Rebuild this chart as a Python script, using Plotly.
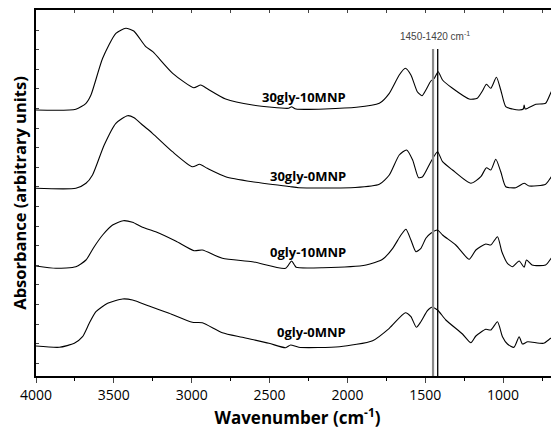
import plotly.graph_objects as go

# Wavenumbers (cm-1) and absorbance (arbitrary units, offset stacked)
wn_a = [4000, 3744, 3679, 3647, 3572, 3487, 3423, 3372, 3295, 3250, 3122, 2987, 2942, 2897, 2782, 2609,
        2378, 2359, 2330, 1942, 1795, 1731, 1667, 1628, 1592, 1551, 1521, 1496, 1464, 1442, 1417, 1389,
        1325, 1218, 1166, 1133, 1107, 1079, 1043, 1015, 983, 940, 897, 870, 865, 858, 790, 727, 684, 652, 640]
abs_30gly_10mnp = [266, 266.7, 272.7, 281, 317.7, 342.7, 347.7, 345, 329.3, 324.3, 302.7, 288.3, 291, 287, 277, 271,
                   267.7, 269.3, 267, 268.7, 272.7, 282.7, 301, 307.7, 301, 284.3, 280.3, 286, 295, 297.7, 304.3, 296,
                   287.7, 277, 277.7, 285, 291.7, 287.7, 298.7, 286, 269.3, 267, 266, 267, 271, 267, 271.7, 272.7, 286, 288.3, 287]

wn_b = [4000, 3744, 3679, 3637, 3562, 3487, 3412, 3370, 3316, 3252, 3124, 2996, 2949, 2900, 2782, 2611,
        2372, 2312, 1950, 1795, 1731, 1667, 1620, 1581, 1543, 1517, 1464, 1421, 1389, 1325, 1207, 1143,
        1107, 1079, 1047, 1015, 983, 919, 865, 833, 727, 684, 652, 640]
abs_30gly_0mnp = [187.7, 187.7, 192.7, 201, 231, 252.7, 260.3, 258.3, 251, 242.7, 224.3, 209.3, 211.7, 207.7, 199.3, 194.3,
                  189.5, 188.3, 188.5, 191.7, 201, 221, 226, 216, 198.3, 199.3, 214.3, 224.3, 214.3, 206, 192.7, 199.3,
                  208.3, 206, 216.7, 204.3, 189.3, 188.3, 192.7, 190, 191.7, 200.3, 201.7, 202]

wn_c = [4000, 3872, 3744, 3679, 3626, 3572, 3508, 3440, 3380, 3316, 3231, 3103, 2985, 2932, 2803, 2611,
        2397, 2359, 2340, 2329, 2158, 1880, 1774, 1709, 1656, 1624, 1592, 1560, 1528, 1496, 1464, 1421,
        1389, 1304, 1218, 1175, 1111, 1079, 1036, 1008, 972, 940, 897, 865, 850, 814, 727, 684, 652, 640]
abs_0gly_10mnp = [110, 107.7, 109.3, 116, 129.3, 141, 151, 155.3, 153.7, 148.7, 144.3, 135, 125.3, 126, 117.7, 114.3,
                  107.7, 115, 111, 108.7, 108.3, 111, 116.7, 127.7, 141, 146.7, 136, 124.3, 127.7, 137.7, 142.7, 146,
                  141, 131, 116.7, 126, 132, 131, 139.3, 124.3, 112.7, 109.3, 115, 108.7, 116, 111, 111, 119.3, 124.3, 125]

wn_d = [4000, 3850, 3754, 3701, 3658, 3615, 3540, 3444, 3380, 3274, 3145, 2996, 2932, 2803, 2675, 2504,
        2397, 2365, 2312, 2051, 1838, 1731, 1628, 1592, 1557, 1528, 1486, 1458, 1421, 1368, 1261, 1207,
        1175, 1111, 1079, 1036, 1004, 972, 930, 897, 876, 842, 740, 694, 652, 640]
abs_0gly_0mnp = [30, 28.7, 32.7, 39.3, 52.7, 64.3, 72.7, 77, 76, 70, 62.7, 53.7, 53.3, 43.3, 38.7, 32.7,
                 28.3, 31, 28.7, 29.3, 35.3, 47.7, 63.3, 59.3, 48.7, 54.3, 65.3, 68.7, 66, 56, 42, 33.3,
                 40, 46.7, 46, 54.3, 39.3, 32, 28.7, 39.3, 32, 34.3, 32.7, 37.7, 41, 41]

series_names = ["30gly-10MNP", "30gly-0MNP", "0gly-10MNP", "0gly-0MNP"]
label_wn = 1994
label_y = [279, 200, 124, 44]

marker_lines = [1450, 1420]
marker_colors = ["#8a8a8a", "#000000"]
marker_widths = [2.2, 1.3]
marker_top = 327
band_label = "1450-1420 cm<sup>-1</sup>"

x_range = [4000, 641]
y_range = [0, 366]
x_ticks = [4000, 3500, 3000, 2500, 2000, 1500, 1000]

fig = go.Figure()
for wn, ab, name in zip([wn_a, wn_b, wn_c, wn_d],
                        [abs_30gly_10mnp, abs_30gly_0mnp, abs_0gly_10mnp, abs_0gly_0mnp],
                        series_names):
    fig.add_trace(go.Scatter(x=wn, y=ab, mode="lines", name=name,
                             line=dict(color="black", width=1.1, shape="spline", smoothing=0.6),
                             showlegend=False))

# dummy trace for the top axis
fig.add_trace(go.Scatter(x=[], y=[], xaxis="x2", showlegend=False))

for xv, c, w in zip(marker_lines, marker_colors, marker_widths):
    fig.add_shape(type="line", x0=xv, x1=xv, y0=0, y1=marker_top, xref="x", yref="y",
                  line=dict(color=c, width=w))

for name, yv in zip(series_names, label_y):
    fig.add_annotation(x=label_wn, y=yv, text="<b>" + name + "</b>", showarrow=False,
                       xanchor="right", yanchor="middle",
                       font=dict(family="Open Sans", size=13, color="black"))

fig.add_annotation(x=(marker_lines[0] + marker_lines[1]) / 2, y=340, text=band_label, showarrow=False,
                   xanchor="center", yanchor="middle",
                   font=dict(family="Liberation Sans", size=10, color="#444"))

fig.update_layout(
    width=559, height=436,
    margin=dict(l=28, r=8, t=2, b=68, autoexpand=False),
    plot_bgcolor="white", paper_bgcolor="white",
    font=dict(family="Open Sans", color="black"),
    xaxis=dict(range=x_range, tickvals=x_ticks, ticks="outside", ticklen=5, tickwidth=1,
               minor=dict(dtick=250, ticks="outside", ticklen=3, tickcolor="black"),
               showline=True, linecolor="black", linewidth=1.5, showgrid=False, zeroline=False,
               automargin=False,
               tickfont=dict(size=14, family="Open Sans"),
               title=dict(text="<b>Wavenumber (cm<sup>-1</sup>)</b>", font=dict(size=17, family="Open Sans"),
                          standoff=6)),
    xaxis2=dict(range=x_range, overlaying="x", side="top", dtick=250, tick0=0, ticks="inside",
                ticklen=3, showticklabels=False, showline=True, linecolor="black", linewidth=1.5,
                showgrid=False, zeroline=False, automargin=False),
    yaxis=dict(range=y_range, showticklabels=False, ticks="inside", ticklen=3, tick0=12.8, dtick=19.6,
               showline=True, linecolor="black", linewidth=1.5, showgrid=False, zeroline=False,
               automargin=False,
               title=dict(text="<b>Absorbance (arbitrary units)</b>", font=dict(size=16.5, family="Open Sans"),
                          standoff=4)),
)

fig.write_html("out.html")
